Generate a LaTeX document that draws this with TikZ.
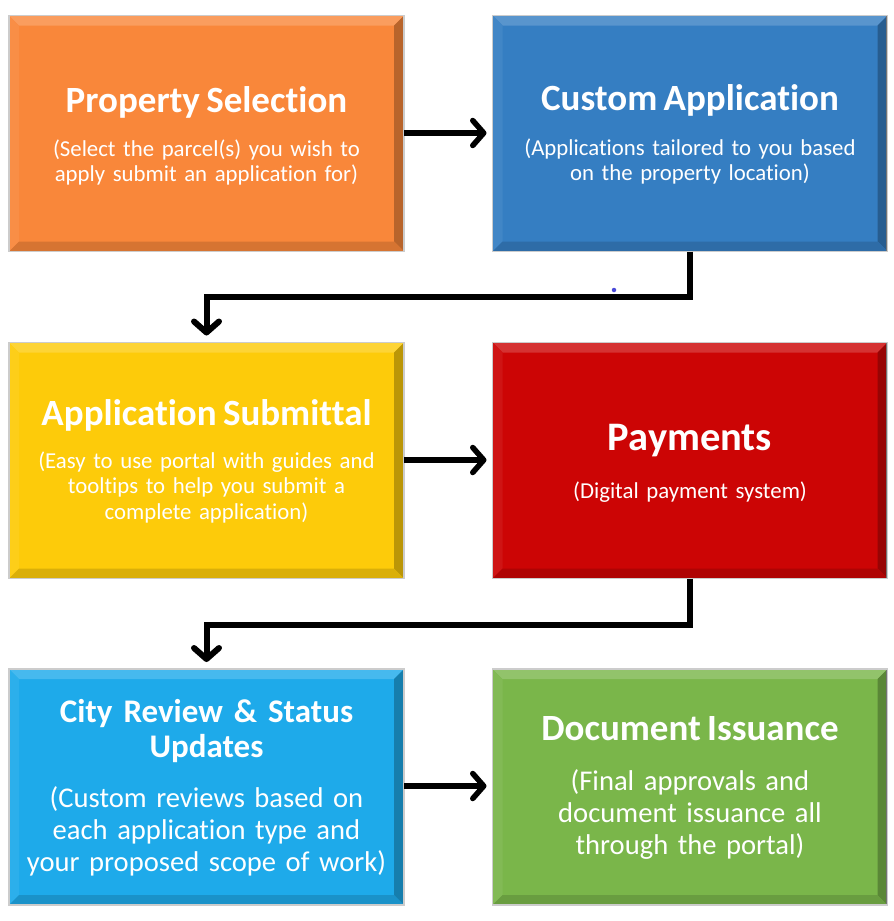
\documentclass[tikz,border=0pt]{standalone}
\usepackage{fontspec}
\setmainfont{Carlito}[WordSpace=0.75, RawFeature={-liga;-clig;-calt;-dlig}]
\usetikzlibrary{arrows.meta}
\definecolor{cOrange}{HTML}{F9873A}
\definecolor{cBlue}{HTML}{357EC2}
\definecolor{cYellow}{HTML}{FDCB0A}
\definecolor{cRed}{HTML}{CC0505}
\definecolor{cCyan}{HTML}{1EAAEA}
\definecolor{cGreen}{HTML}{7AB64A}
\definecolor{cDot}{HTML}{4A4AD8}
\newcommand{\bevbox}[4]{%
  \node[boxbase, fill=#4] (#1) at (#2,#3) {};
  \fill[#4!82!white] (#1.north west) -- (#1.north east) -- ([shift={(-10,10)}]#1.north east) -- ([shift={(10,10)}]#1.north west) -- cycle;
  \fill[#4!94!white] (#1.north west) -- ([shift={(10,10)}]#1.north west) -- ([shift={(10,-10)}]#1.south west) -- (#1.south west) -- cycle;
  \fill[#4!74!black] (#1.north east) -- ([shift={(-10,10)}]#1.north east) -- ([shift={(-10,-10)}]#1.south east) -- (#1.south east) -- cycle;
  \fill[#4!86!black] (#1.south west) -- ([shift={(10,-10)}]#1.south west) -- ([shift={(-10,-10)}]#1.south east) -- (#1.south east) -- cycle;
  \draw[black!55, line width=1.2pt] ([shift={(-0.6,0)}]#1.north east) -- ([shift={(-0.6,0)}]#1.south east);
  \draw[boxframe] (#1.north west) rectangle (#1.south east);
}
\tikzset{
  boxbase/.style={rectangle, draw=none, minimum width=395pt, minimum height=236pt, inner sep=0pt, outer sep=0pt},
  boxframe/.style={draw=black!20, line width=1.6pt},
  ttl/.style={anchor=base, text=white, font=\bfseries\fontsize{37}{40}\selectfont},
  sub/.style={anchor=base, text=white, text width=385pt, font=\fontsize{22.8}{25.5}\selectfont},
  subbig/.style={anchor=base, text=white, text width=385pt, font=\fontsize{28.6}{32}\selectfont},
  arr/.style={line width=5.5pt, -{Straight Barb[length=11pt, width=25pt, round]}, shorten >=6pt},
  elb/.style={line width=6pt, -{Straight Barb[length=11pt, width=25pt, round]}, shorten >=7pt}
}
\begin{document}
\begin{tikzpicture}[x=1pt, y=-1pt]
\useasboundingbox[fill=white] (0,0) rectangle (894,921);
\bevbox{ps}{206.5}{133.5}{cOrange}
\bevbox{ca}{690}{133.5}{cBlue}
\bevbox{as}{206.5}{460.5}{cYellow}
\bevbox{pay}{690}{460.5}{cRed}
\bevbox{cr}{206.5}{787}{cCyan}
\bevbox{di}{690}{787}{cGreen}
% texts
\node[ttl] (psT) at (206.5,112) {Property Selection};
\node[sub] (psS) at (206.5,156) {\centering (Select the parcel(s) you wish to\\apply submit an application for)\par};
\node[ttl] (caT) at (690,110) {Custom Application};
\node[sub] (caS) at (690,155) {\centering (Applications tailored to you based\\on the property location)\par};
\node[ttl] (asT) at (206.5,425) {Application Submittal};
\node[sub] (asS) at (206.5,468) {\centering (Easy to use portal with guides and\\tooltips to help you submit a\\complete application)\par};
\node[ttl, font=\bfseries\fontsize{40.5}{44}\selectfont] (payT) at (690,450) {Payments};
\node[sub] (payS) at (690,498) {\centering (Digital payment system)\par};
\node[ttl, text width=385pt, font=\bfseries\fontsize{33}{35}\selectfont] (crT) at (206.5,722) {\centering City Review \& Status\\Updates\par};
\node[subbig] (crS) at (206.5,807) {\centering (Custom reviews based on\\each application type and\\your proposed scope of work)\par};
\node[ttl] (diT) at (690,740) {Document Issuance};
\node[subbig] (diS) at (690,790) {\centering (Final approvals and\\document issuance all\\through the portal)\par};
% connectors
\draw[arr] (ps.east |- 0,133) -- (ca.west |- 0,133);
\draw[arr] (as.east |- 0,460) -- (pay.west |- 0,460);
\draw[arr] (cr.east |- 0,786) -- (di.west |- 0,786);
\draw[elb] (ca.south) -- ++(0,45) -| (as.north);
\draw[elb] (pay.south) -- ++(0,46) -| (cr.north);
\node[circle, fill=cDot, inner sep=0pt, minimum size=4.5pt] (dot) at (614,290) {};
\end{tikzpicture}
\end{document}
